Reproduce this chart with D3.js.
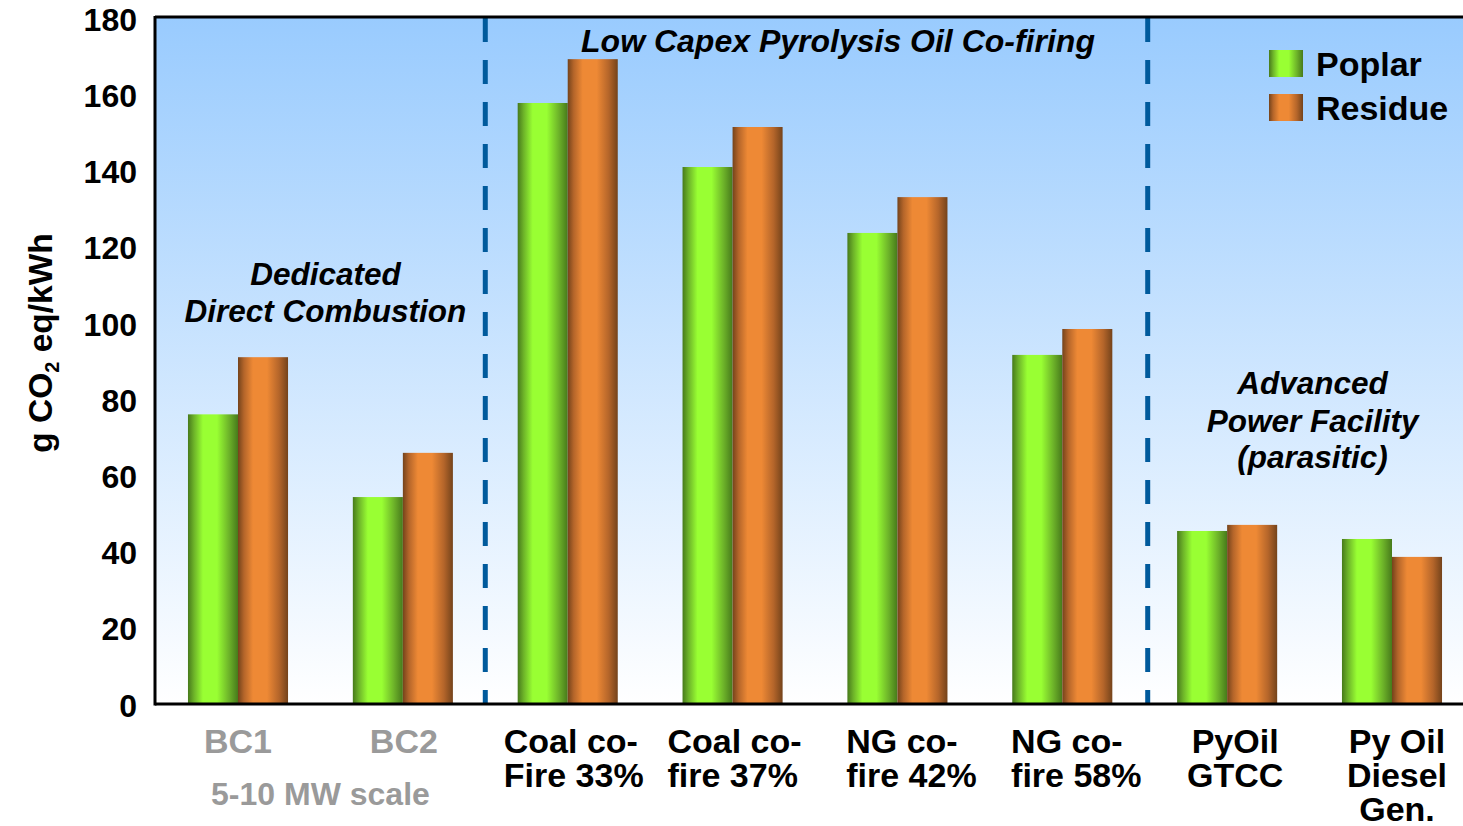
<!DOCTYPE html>
<html>
<head>
<meta charset="utf-8">
<script src="https://cdn.jsdelivr.net/npm/d3@7"></script>
<style>
  html, body { margin: 0; padding: 0; background: #fff; }
  svg { display: block; font-family: "Liberation Sans", Arial, Helvetica, sans-serif; }
</style>
</head>
<body>
<svg id="chart" width="1463" height="826"></svg>
<script>
// Life-cycle GHG emissions per kWh by power option and feedstock
const categories = ["BC1", "BC2", "Coal33", "Coal37", "NG42", "NG58", "PyOilGTCC", "PyOilDiesel"];
const categoryLabels = [
  ["BC1"],
  ["BC2"],
  ["Coal co-", "Fire 33%"],
  ["Coal co-", "fire 37%"],
  ["NG co-", "fire 42%"],
  ["NG co-", "fire 58%"],
  ["PyOil", "GTCC"],
  ["Py Oil", "Diesel", "Gen."]
];
const series = ["Poplar", "Residue"];
const poplarValues  = [76, 54.3, 157.7, 140.9, 123.6, 91.6, 45.4, 43.3];
const residueValues = [91, 65.9, 169.2, 151.4, 133.0, 98.4, 47.0, 38.6];
const yTicks = [0, 20, 40, 60, 80, 100, 120, 140, 160, 180];
const groupNotes = [
  { lines: ["Dedicated", "Direct Combustion"], from: 0, to: 1 },
  { lines: ["Low Capex Pyrolysis Oil Co-firing"], from: 2, to: 5 },
  { lines: ["Advanced", "Power Facility", "(parasitic)"], from: 6, to: 7 }
];
const scaleNote = "5-10 MW scale";

// ---- layout ----
const W = 1463, H = 826;
const plot = { left: 155, right: 1475, top: 18, bottom: 704 };
const svg = d3.select("#chart");

const x = d3.scaleBand().domain(categories).range([plot.left, plot.right])
  .paddingInner(0.393).paddingOuter(0.2);
const xs = d3.scaleBand().domain(series).range([0, x.bandwidth()]);
const y = d3.scaleLinear().domain([0, 180]).range([plot.bottom, plot.top]);

const defs = svg.append("defs");
const bg = defs.append("linearGradient").attr("id", "bgGrad")
  .attr("x1", 0).attr("y1", 0).attr("x2", 0).attr("y2", 1);
bg.append("stop").attr("offset", "0%").attr("stop-color", "#99cbfe");
bg.append("stop").attr("offset", "100%").attr("stop-color", "#ffffff");

function cylinder(id, dark, mid, bright) {
  const g = defs.append("linearGradient").attr("id", id)
    .attr("x1", 0).attr("y1", 0).attr("x2", 1).attr("y2", 0);
  [[0, dark], [0.12, mid], [0.3, bright], [0.58, bright], [0.82, mid], [1, dark]]
    .forEach(([o, c]) => g.append("stop").attr("offset", o).attr("stop-color", c));
}
cylinder("gPoplar", "#477a1b", "#6db329", "#99ff33");
cylinder("gResidue", "#74431b", "#b4652a", "#ee8935");
const fills = { Poplar: "url(#gPoplar)", Residue: "url(#gResidue)" };

// plot background
svg.append("rect")
  .attr("x", plot.left).attr("y", plot.top - 1)
  .attr("width", W - plot.left).attr("height", plot.bottom - plot.top + 1)
  .attr("fill", "url(#bgGrad)");

// bars
const rows = categories.map((c, i) => ({ cat: c, Poplar: poplarValues[i], Residue: residueValues[i] }));
svg.append("g").selectAll("g").data(rows).join("g")
  .attr("transform", d => `translate(${x(d.cat)},0)`)
  .selectAll("rect").data(d => series.map(s => ({ s, v: d[s] }))).join("rect")
  .attr("x", d => xs(d.s)).attr("width", xs.bandwidth())
  .attr("y", d => y(d.v)).attr("height", d => y(0) - y(d.v))
  .attr("fill", d => fills[d.s]);

// dashed separators between groups
const step = x.step();
const sepAfter = [1, 5];
const sepX = i => x(categories[i]) + x.bandwidth() + (step - x.bandwidth()) / 2 + (i === 5 ? 3 : 0);
svg.append("g").selectAll("line").data(sepAfter).join("line")
  .attr("x1", sepX).attr("x2", sepX)
  .attr("y1", plot.top).attr("y2", plot.bottom)
  .attr("stroke", "#005a9c").attr("stroke-width", 5)
  .attr("stroke-dasharray", "24,18");

// frame: left axis, bottom axis, top border
const frame = svg.append("g").attr("stroke", "#000").attr("stroke-width", 3);
frame.append("line").attr("x1", plot.left).attr("x2", plot.left).attr("y1", plot.top - 2).attr("y2", plot.bottom + 1.5);
frame.append("line").attr("x1", plot.left).attr("x2", W).attr("y1", plot.bottom).attr("y2", plot.bottom);
frame.append("line").attr("x1", plot.left).attr("x2", W).attr("y1", plot.top - 1).attr("y2", plot.top - 1);

// y axis tick labels
const yAxis = d3.axisLeft(y).tickValues(yTicks).tickSize(0).tickPadding(18);
const ya = svg.append("g").attr("transform", `translate(${plot.left},0)`).call(yAxis);
ya.select(".domain").remove();
ya.selectAll("text").attr("font-size", 32).attr("font-weight", "bold")
  .attr("fill", "#000").attr("font-family", "Liberation Sans, Arial, sans-serif")
  .attr("dy", "0.38em");

// y axis title
const yt = svg.append("text")
  .attr("transform", `translate(52,343) rotate(-90)`)
  .attr("text-anchor", "middle").attr("font-size", 33.5).attr("font-weight", "bold");
yt.append("tspan").text("g CO");
yt.append("tspan").attr("font-size", 20).attr("dy", 7).text("2");
yt.append("tspan").attr("dy", -7).text(" eq/kWh");

// x category labels
const grayCats = new Set(["BC1", "BC2"]);
const leftAligned = new Set(["Coal33", "Coal37", "NG42", "NG58"]);
const labelNudge = { BC1: 0, BC2: 1, Coal33: 6, Coal37: 2, NG42: 14, NG58: 14, PyOilGTCC: 8, PyOilDiesel: 5 };
categories.forEach((c, i) => {
  const cx = x(c) + x.bandwidth() / 2 + labelNudge[c];
  const g = svg.append("g");
  const texts = categoryLabels[i].map((line, k) =>
    g.append("text").attr("y", 753 + k * 34)
      .attr("font-size", 34).attr("font-weight", "bold")
      .attr("fill", grayCats.has(c) ? "#9a9a9a" : "#000").text(line));
  const widths = texts.map(t => t.node().getComputedTextLength());
  const maxW = d3.max(widths);
  texts.forEach((t, k) => {
    if (leftAligned.has(c)) t.attr("x", cx - maxW / 2);
    else t.attr("x", cx - widths[k] / 2);
  });
});
svg.append("text")
  .attr("x", (x("BC1") + x("BC2") + x.bandwidth()) / 2).attr("y", 805)
  .attr("text-anchor", "middle").attr("font-size", 32).attr("font-weight", "bold")
  .attr("fill", "#9a9a9a").text(scaleNote);

// group annotations
const noteY = [[285, 322], [52], [394, 432, 468]];
const noteNudge = [5, 23, 3];
groupNotes.forEach((n, j) => {
  const cx = (x(categories[n.from]) + x(categories[n.to]) + x.bandwidth()) / 2 + noteNudge[j];
  n.lines.forEach((line, k) => {
    svg.append("text").attr("x", cx)
      .attr("y", noteY[j][k]).attr("text-anchor", "middle")
      .attr("font-size", j === 1 ? 32 : 31.5).attr("font-weight", "bold").attr("font-style", "italic")
      .text(line);
  });
});

// legend
const legend = svg.append("g").attr("transform", "translate(1269,50)");
series.forEach((s, i) => {
  legend.append("rect").attr("x", 0).attr("y", i * 44).attr("width", 34).attr("height", 27)
    .attr("fill", fills[s]);
  legend.append("text").attr("x", 47).attr("y", i * 44 + 26)
    .attr("font-size", 34).attr("font-weight", "bold").text(s);
});
</script>
</body>
</html>
